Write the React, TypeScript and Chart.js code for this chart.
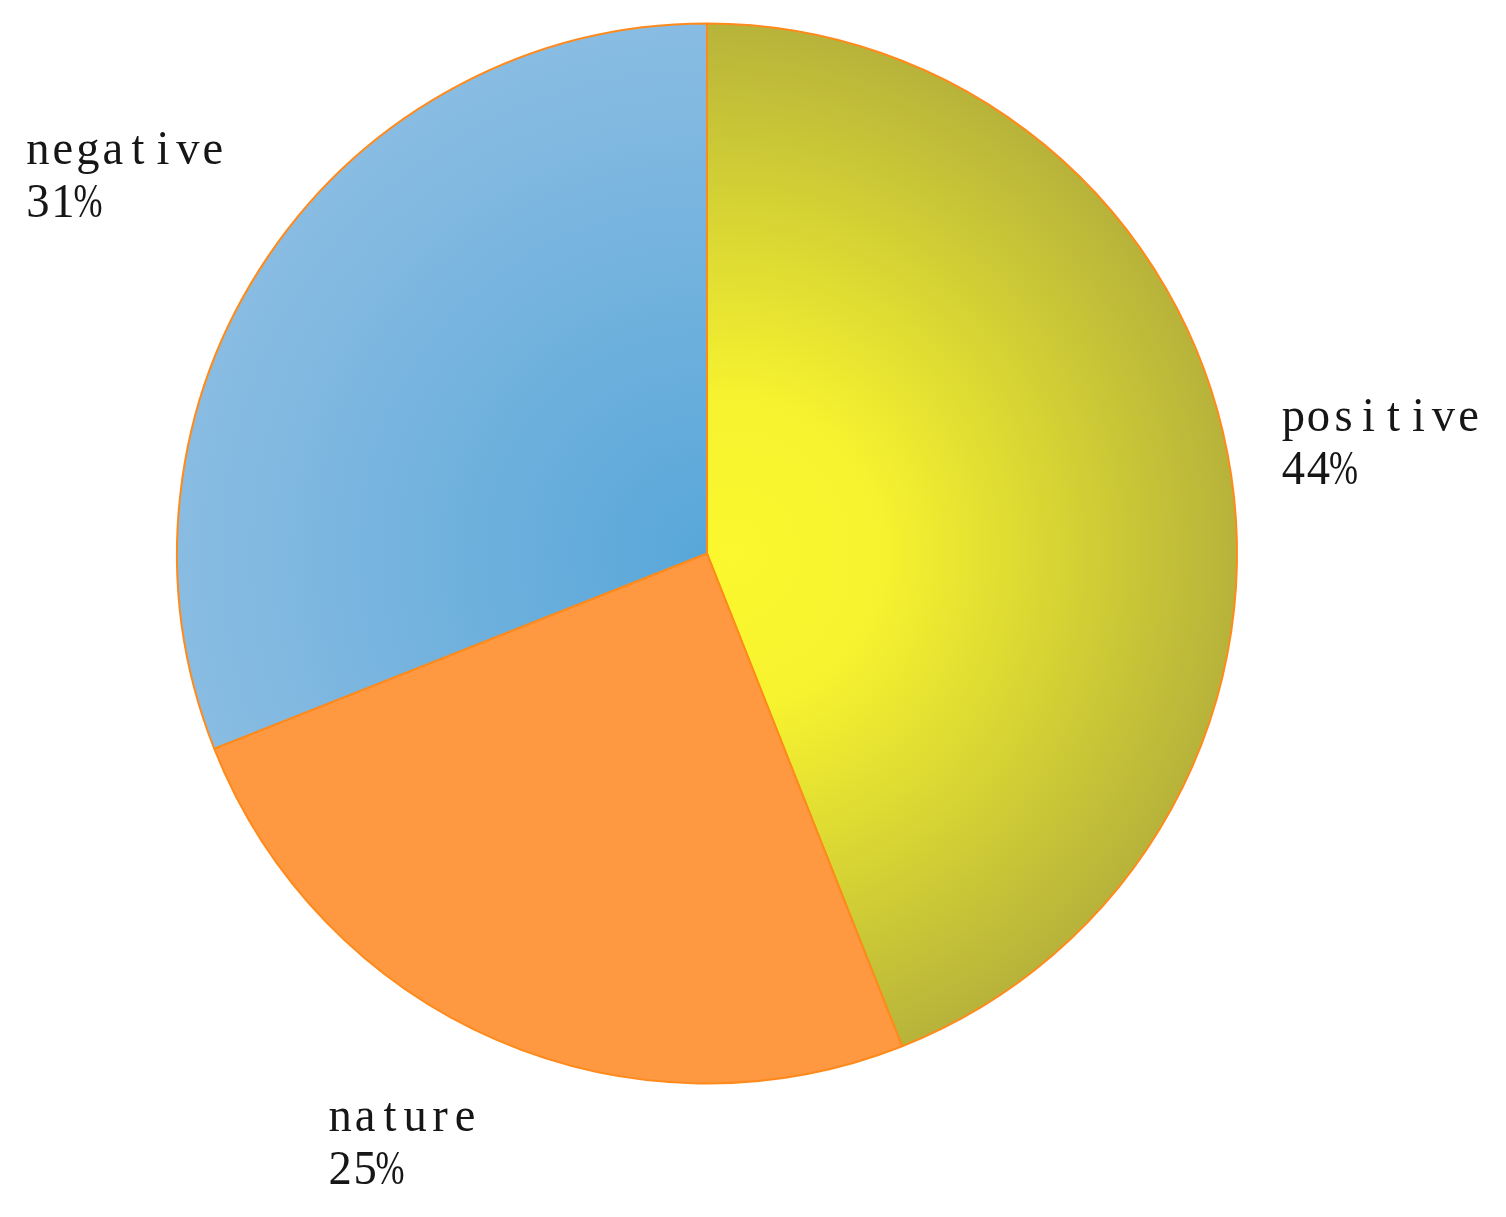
import React, { useEffect, useRef } from "react";
import { Chart, registerables } from "chart.js";

Chart.register(...registerables);

const categories = ["positive", "nature", "negative"];
const shares = [44, 25, 31];

// label anchor offsets relative to pie centre, in units of the radius (left x, first baseline y)
const labelOffsets = [
  [1.083, -0.232],
  [-0.716, 1.09],
  [-1.286, -0.734],
];

const FONT = "49px 'Liberation Serif', serif";
const PITCH = 25;
const LINE = 53;
const HSCALE = 0.95;

function drawMono(ctx: CanvasRenderingContext2D, text: string, x: number, y: number) {
  for (let i = 0; i < text.length; i++) {
    const ch = text[i];
    const w0 = ctx.measureText(ch).width;
    const s = Math.min(HSCALE, (PITCH + 4) / w0);
    const w = w0 * s;
    ctx.save();
    ctx.translate(x + i * PITCH + (PITCH - w) / 2, y);
    ctx.scale(s, 1);
    ctx.fillText(ch, 0, 0);
    ctx.restore();
  }
}

const labelPlugin = {
  id: "sliceLabels",
  afterDraw(chart: any) {
    const meta = chart.getDatasetMeta(0);
    const arc = meta.data[0];
    if (!arc) return;
    const { x: cx, y: cy, outerRadius: r } = arc.getProps(["x", "y", "outerRadius"], true);
    const ctx = chart.ctx as CanvasRenderingContext2D;
    const total = shares.reduce((a, b) => a + b, 0);
    ctx.save();
    ctx.font = FONT;
    ctx.fillStyle = "#161616";
    ctx.textBaseline = "alphabetic";
    categories.forEach((c, i) => {
      const [ox, oy] = labelOffsets[i];
      const x = cx + ox * r;
      const y = cy + oy * r;
      drawMono(ctx, c, x, y);
      drawMono(ctx, Math.round((shares[i] / total) * 100) + "%", x, y + LINE);
    });
    ctx.restore();
  },
};

function sliceFill(ctx: any) {
  const chart = ctx.chart;
  const area = chart.chartArea;
  if (!area) return "#ccc";
  const cx = (area.left + area.right) / 2;
  const cy = (area.top + area.bottom) / 2;
  const r = Math.min(area.right - area.left, area.bottom - area.top) / 2;
  const c = chart.ctx as CanvasRenderingContext2D;
  const i = ctx.dataIndex;
  if (i === 0) {
    const g = c.createRadialGradient(cx + r * 0.05, cy, 0, cx, cy, r);
    g.addColorStop(0, "#fbf82e");
    g.addColorStop(0.3, "#f6f22f");
    g.addColorStop(0.65, "#d6d334");
    g.addColorStop(1, "#b7b33b");
    return g;
  }
  if (i === 1) {
    return "#fe9841";
  }
  const g = c.createRadialGradient(cx, cy, 0, cx, cy, r);
  g.addColorStop(0, "#58a7d9");
  g.addColorStop(1, "#89bce2");
  return g;
}

export default function App() {
  const ref = useRef<HTMLCanvasElement>(null);
  useEffect(() => {
    if (!ref.current) return;
    const chart = new Chart(ref.current, {
      type: "pie",
      data: {
        labels: categories,
        datasets: [
          {
            data: shares,
            backgroundColor: sliceFill as any,
            borderColor: "#ff8a1c",
            borderWidth: 2,
          },
        ],
      },
      options: {
        animation: false,
        responsive: false,
        maintainAspectRatio: false,
        layout: { padding: { left: 176, right: 268, top: 22, bottom: 132 } },
        plugins: { legend: { display: false }, tooltip: { enabled: false } },
      },
      plugins: [labelPlugin],
    });
    return () => chart.destroy();
  }, []);
  return (
    <div style={{ position: "absolute", left: 0, top: 0, width: 1506, height: 1217, background: "#fff" }}>
      <canvas ref={ref} width={1506} height={1217} style={{ width: 1506, height: 1217 }} />
    </div>
  );
}
